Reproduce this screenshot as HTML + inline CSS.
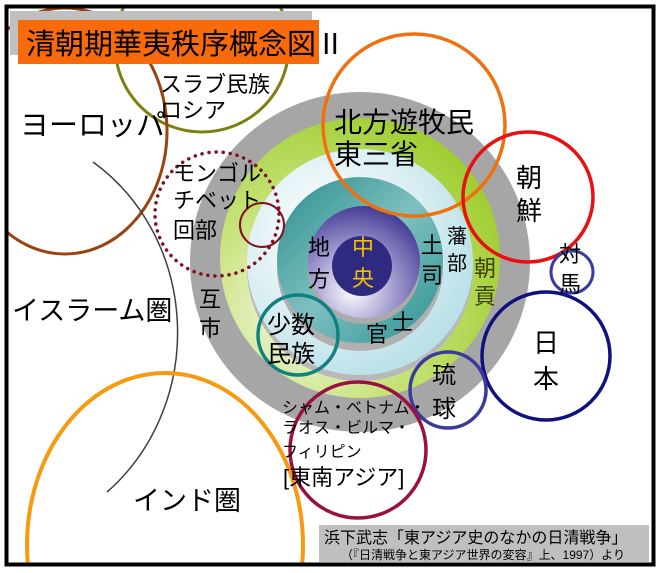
<!DOCTYPE html>
<html><head><meta charset="utf-8"><style>
html,body{margin:0;padding:0;background:#fff;width:662px;height:573px;overflow:hidden;}
svg{display:block;}
text{font-family:"Liberation Sans","Noto Sans CJK JP",sans-serif;fill:#000;}
</style></head><body>
<svg width="662" height="573" viewBox="0 0 662 573" xmlns="http://www.w3.org/2000/svg">
<defs>
<clipPath id="fr"><rect x="7" y="7" width="646" height="557"/></clipPath>
<radialGradient id="gl" cx="0.35" cy="0.35" r="0.7">
<stop offset="0" stop-color="#ffffff"/><stop offset="0.6" stop-color="#d9eef2"/><stop offset="1" stop-color="#b9e0e8"/>
</radialGradient>
<radialGradient id="gg" cx="0.3" cy="0.7" r="0.8">
<stop offset="0" stop-color="#f4f8e8"/><stop offset="0.5" stop-color="#c8e27a"/><stop offset="1" stop-color="#9ccc2c"/>
</radialGradient>
<linearGradient id="gt" x1="0" y1="0" x2="1" y2="1">
<stop offset="0" stop-color="#2a8c8c"/><stop offset="0.5" stop-color="#7fc0c0"/><stop offset="1" stop-color="#2a9090"/>
</linearGradient>
<radialGradient id="gp" cx="0.4" cy="0.75" r="0.8">
<stop offset="0" stop-color="#ffffff"/><stop offset="0.5" stop-color="#9b95cc"/><stop offset="1" stop-color="#3a3390"/>
</radialGradient>
</defs>
<rect x="0" y="0" width="662" height="573" fill="#fff"/>
<g clip-path="url(#fr)">
<circle cx="360" cy="262" r="170" fill="#a6a6a6"/>
<circle cx="360" cy="258" r="140" fill="url(#gg)"/>
<circle cx="360" cy="268" r="113" fill="#b8b8b8"/>
<circle cx="360" cy="262" r="113" fill="url(#gl)"/>
<circle cx="360" cy="268" r="83" fill="#b0b0b0"/>
<circle cx="360" cy="260" r="83" fill="url(#gt)"/>
<circle cx="364" cy="268" r="56" fill="#aaaaaa"/>
<circle cx="364" cy="262" r="56" fill="url(#gp)"/>
<circle cx="362" cy="266" r="30" fill="#2e2a80"/>
<circle cx="202" cy="45" r="87" fill="none" stroke="#7f7f10" stroke-width="3"/>
<ellipse cx="65" cy="131" rx="102" ry="123" fill="none" stroke="#9a4310" stroke-width="3"/>
<path d="M93,162 A190 205 0 0 1 107,492" fill="none" stroke="#404040" stroke-width="1.5"/>
<ellipse cx="165" cy="545" rx="138" ry="172" fill="none" stroke="#f79a10" stroke-width="4"/>
<circle cx="414" cy="125" r="91" fill="none" stroke="#f07010" stroke-width="3.5"/>
<circle cx="528" cy="197" r="65" fill="none" stroke="#e81010" stroke-width="3.5"/>
<circle cx="572" cy="272" r="21" fill="none" stroke="#3a3aa0" stroke-width="3"/>
<circle cx="546" cy="356" r="64" fill="none" stroke="#101080" stroke-width="3.5"/>
<circle cx="448" cy="390" r="38" fill="none" stroke="#3a3a9a" stroke-width="3.5"/>
<circle cx="358" cy="450" r="68" fill="none" stroke="#9a1040" stroke-width="3.5"/>
<circle cx="298" cy="335" r="40" fill="none" stroke="#108080" stroke-width="3.5"/>
<circle cx="217" cy="214" r="62" fill="none" stroke="#801020" stroke-width="3.5" stroke-dasharray="0.1 7" stroke-linecap="round"/>
<circle cx="262" cy="225" r="22" fill="none" stroke="#801020" stroke-width="2"/>
</g>
<rect x="10" y="11" width="302" height="44" fill="#c0c0c0"/>
<rect x="18" y="20" width="301" height="44" fill="#f86a0a"/>
<text x="26" y="54" font-size="29">清朝期華夷秩序概念図Ⅱ</text>
<text x="160" y="92" font-size="22">スラブ民族</text>
<text x="160" y="118" font-size="22">ロシア</text>
<text x="20" y="135" font-size="29">ヨーロッパ</text>
<text x="334" y="132" font-size="28">北方遊牧民</text>
<text x="334" y="164" font-size="28">東三省</text>
<text x="173" y="181" font-size="22">モンゴル</text>
<text x="173" y="208" font-size="22">チベット</text>
<text x="173" y="238" font-size="22">回部</text>
<text x="12" y="320" font-size="27">イスラーム圏</text>
<text x="199" y="307" font-size="22">互</text>
<text x="199" y="336" font-size="22">市</text>
<text x="308" y="255" font-size="22">地</text>
<text x="308" y="287" font-size="22">方</text>
<text x="352" y="255" font-size="22" style="fill:#f5c000">中</text>
<text x="352" y="286" font-size="22" style="fill:#f5c000">央</text>
<text x="421" y="253" font-size="22">土</text>
<text x="421" y="283" font-size="22">司</text>
<text x="447" y="243" font-size="20">藩</text>
<text x="447" y="270" font-size="20">部</text>
<text x="474" y="276" font-size="22" style="fill:#404000">朝</text>
<text x="474" y="304" font-size="22" style="fill:#404000">貢</text>
<text x="392" y="330" font-size="22">士</text>
<text x="366" y="342" font-size="22">官</text>
<text x="267" y="333" font-size="24">少数</text>
<text x="267" y="362" font-size="24">民族</text>
<text x="516" y="187" font-size="26">朝</text>
<text x="516" y="220" font-size="26">鮮</text>
<text x="559" y="262" font-size="22">対</text>
<text x="559" y="292" font-size="22">馬</text>
<text x="533" y="352" font-size="26">日</text>
<text x="533" y="388" font-size="26">本</text>
<text x="432" y="383" font-size="24">琉</text>
<text x="432" y="417" font-size="24">球</text>
<text x="282" y="413" font-size="16">シャム・ベトナム・</text>
<text x="282" y="433" font-size="16">ラオス・ビルマ・</text>
<text x="282" y="457" font-size="16">フィリピン</text>
<text x="283" y="485" font-size="22">[東南アジア]</text>
<text x="133" y="510" font-size="27">インド圏</text>
<rect x="319" y="525" width="330" height="37" fill="#bfbfbf"/>
<text x="324" y="543" font-size="16">浜下武志「東アジア史のなかの日清戦争」</text>
<text x="341" y="559" font-size="12">（『日清戦争と東アジア世界の変容』上、1997）より</text>
<rect x="6.5" y="6.5" width="647" height="558" fill="none" stroke="#000" stroke-width="4"/>
</svg>
</body></html>
